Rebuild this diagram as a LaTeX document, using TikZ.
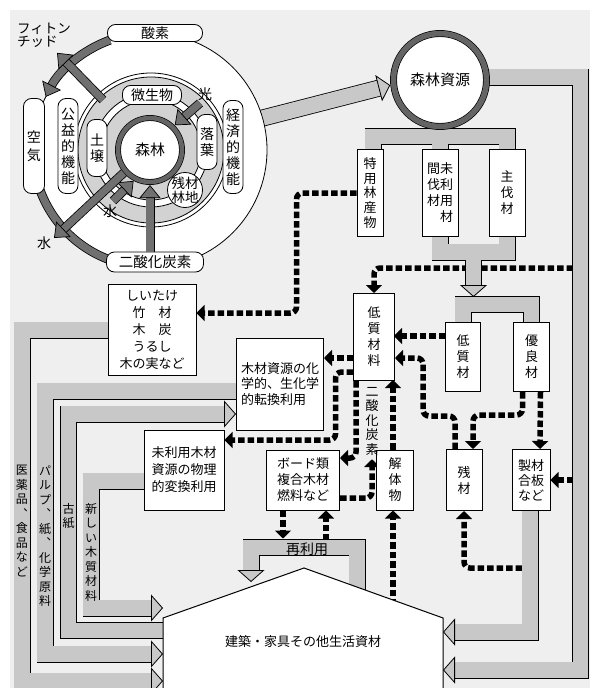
\documentclass[tikz,border=0pt]{standalone}
\usepackage{fontspec}
\setmainfont{Noto Sans CJK JP}
\usepackage{tikz}
\usetikzlibrary{arrows.meta,positioning,calc}
\definecolor{bggray}{RGB}{239,239,239}
\definecolor{bandgray}{RGB}{200,200,200}
\definecolor{diskgray}{RGB}{210,210,210}
\definecolor{arrgray}{RGB}{112,112,112}
\definecolor{ringgray}{RGB}{100,100,100}
\pgfdeclarelayer{bglayer}
\pgfdeclarelayer{dotlayer}
\pgfdeclarelayer{bandlayer}
\pgfsetlayers{bglayer,dotlayer,bandlayer,main}
\tikzset{
  blk/.style={draw, fill=white, line width=1pt, inner sep=0pt, align=center,
              font=\fontsize{13}{16}\selectfont},
  pill/.style={draw, fill=white, line width=0.8pt, rounded corners=8pt, inner sep=0pt,
               align=center, font=\fontsize{14}{16}\selectfont},
  ring/.style={circle, draw, line width=0.7pt, double=ringgray, fill=white, inner sep=0pt},
  dotarr/.style={line width=5.5pt, dash pattern=on 6.5pt off 3pt, rounded corners=6pt,
                 -{Triangle[length=8pt,width=16pt]}},
  bandout/.style={draw=black, line width=17pt},
  bandin/.style={draw=bandgray, line width=15.4pt},
  bandtip/.style={-{Triangle[length=12pt,width=27pt,fill=bandgray,color=black,line width=0.8pt]}},
  darkout/.style={draw=black, line width=9pt},
  darkin/.style={draw=arrgray, line width=7.4pt},
  darktip/.style={-{Triangle[length=13pt,width=21pt,fill=arrgray,color=black,line width=0.7pt]}},
  bandlbl/.style={inner sep=0pt, align=center, font=\fontsize{12}{14.5}\selectfont},
}
\begin{document}
\begin{tikzpicture}[x=1pt, y=-1pt]
  \useasboundingbox (0,0) rectangle (590,688);
  \begin{pgfonlayer}{bglayer}
    \fill[bggray] (10,10) rectangle (590,688);
  \end{pgfonlayer}

  % forest circle
  \coordinate (oc) at (150,150);
  \coordinate (ic) at (151,150);
  \draw[fill=white, line width=0.8pt] (oc) circle[radius=117pt];
  \draw[darkout, shorten >=12pt] (oc) ++(250:117) arc[start angle=110, end angle=153, radius=117pt];
  \draw[darkin, darktip] (oc) ++(250:117) arc[start angle=110, end angle=153, radius=117pt];
  \draw[darkout] (oc) ++(160:117) arc[start angle=200, end angle=250, radius=117pt];
  \draw[darkin] (oc) ++(160:117) arc[start angle=200, end angle=250, radius=117pt];
  \node[pill, minimum width=95pt, minimum height=17pt] (oxygen) at (155,33) {酸素};
  \node[pill, minimum width=21pt, minimum height=95pt, font=\fontsize{14}{18}\selectfont] (air) at (34,146) {空\\気};
  \node[pill, minimum width=97pt, minimum height=20pt, font=\fontsize{14.5}{16}\selectfont] (co2pill) at (155,262) {二酸化炭素};
  \draw[line width=0.8pt] (ic) circle[radius=77pt];
  \draw[fill=diskgray, line width=0.8pt] (ic) circle[radius=73pt];
  \node[pill, minimum width=20pt, minimum height=95pt] (public) at (68,146) {公\\益\\的\\機\\能};
  \node[pill, minimum width=20pt, minimum height=93pt] (econ) at (233,147) {経\\済\\的\\機\\能};
  \draw[fill=white, line width=0.8pt] (ic) circle[radius=57pt];
  \draw[fill=diskgray, line width=0.8pt] (ic) circle[radius=50pt];
  \node[pill, minimum width=59pt, minimum height=19pt] (microbe) at (152,95) {微生物};
  \node[pill, minimum width=20pt, minimum height=57pt] (soil) at (97,148) {土\\壌};
  \node[pill, minimum width=20pt, minimum height=55pt] (litter) at (207,142) {落\\葉};
  \node[circle, draw, fill=white, line width=0.8pt, minimum size=35pt] (slash) at (185,190) {};
  \node[align=center, inner sep=0pt, font=\fontsize{13.5}{14}\selectfont] at (slash) {残材\\林地};
  \node[ring, double distance=4.5pt, outer sep=3pt, minimum size=64pt,
        font=\fontsize{15}{18}\selectfont] (forest) at (150,150) {森林};

  \node[anchor=north west, align=left, inner sep=0pt, font=\fontsize{13.5}{13}\selectfont] (phyton) at (17,23) {フィトン\\チッド};
  \node[inner sep=0pt, font=\fontsize{14}{14}\selectfont] (light) at (205,94) {光};
  \node[inner sep=0pt, font=\fontsize{14}{14}\selectfont] (waterin) at (110,211) {水};
  \node[inner sep=0pt, font=\fontsize{14}{14}\selectfont] (waterout) at (44,243) {水};
  \coordinate (phyS) at (103,100);
  \draw[darkout, shorten >=12pt] (phyS) -- ([xshift=13pt,yshift=-5pt]phyton.south);
  \draw[darkin, darktip] (phyS) -- ([xshift=13pt,yshift=-5pt]phyton.south);
  \draw[darkout, shorten >=12pt] ([xshift=-5pt,yshift=-9pt]light.center) -- (forest.45);
  \draw[darkin, darktip] ([xshift=-5pt,yshift=-9pt]light.center) -- (forest.45);
  \draw[darkout, shorten >=12pt] ([xshift=3pt,yshift=10pt]waterin.center) -- (forest.242);
  \draw[darkin, darktip] ([xshift=3pt,yshift=10pt]waterin.center) -- (forest.242);
  \draw[darkout, shorten >=12pt] (forest.221) -- ([xshift=10pt,yshift=5pt]waterout.center);
  \draw[darkin, darktip] (forest.221) -- ([xshift=10pt,yshift=5pt]waterout.center);
  \draw[darkout, shorten >=12pt] (forest.south |- co2pill.north) -- (forest.south);
  \draw[darkin, darktip] (forest.south |- co2pill.north) -- (forest.south);

  % resources and timber
  \node[ring, double distance=5.5pt, outer sep=3.5pt, minimum size=93pt,
        font=\fontsize{15}{18}\selectfont] (res) at (440,80) {森林資源};
  \node[blk, minimum width=26pt, minimum height=87pt, font=\fontsize{13}{14.6}\selectfont] (special) at (370,193) {特\\用\\林\\産\\物};
  \node[blk, minimum width=36pt, minimum height=87pt] (thinning) at (440,193) {間未\\伐利\\材用\\\hphantom{材}材};
  \node[blk, minimum width=36pt, minimum height=87pt] (mainfell) at (507,193) {主\\伐\\材};
  \node[blk, minimum width=35pt, minimum height=69pt] (lowwood) at (463,357) {低\\質\\材};
  \node[blk, minimum width=36pt, minimum height=69pt, right=32pt of lowwood] (goodwood) {優\\良\\材};
  \node[blk, minimum width=41pt, minimum height=87pt] (lowmat) at (374,337) {低\\質\\材\\料};
  \node[blk, minimum width=36pt, minimum height=61pt] (residue) at (464,480) {残\\材};
  \node[blk, minimum width=38pt, minimum height=61pt, font=\fontsize{13}{15}\selectfont] (lumber) at (531,480) {製材\\合板\\など};
  \node[blk, minimum width=37pt, minimum height=60pt] (demol) at (395,480) {解\\体\\物};
  \node[blk, minimum width=73pt, minimum height=60pt, align=left] (board) at (303,480) {ボード類\\複合木材\\燃料など};
  \node[blk, minimum width=87pt, minimum height=92pt, align=left, font=\fontsize{13}{15.5}\selectfont] (chem) at (280,384) {木材資源の化\\学的、生化学\\的転換利用};
  \node[blk, minimum width=80pt, minimum height=80pt, font=\fontsize{13}{17}\selectfont] (phys) at (184,470) {未利用木材\\資源の物理\\的変換利用};
  \node[blk, minimum width=88pt, minimum height=91pt, font=\fontsize{13}{17}\selectfont] (shiitake) at (152,330) {しいたけ\\竹　材\\木　炭\\うるし\\木の実など};
  \node[inner sep=0pt, align=center, font=\fontsize{13}{14.5}\selectfont] (co2) at (372,421) {二\\酸\\化\\炭\\素};

  % house
  \coordinate (roofL) at (163,618);
  \coordinate (roofT) at (304,568);
  \coordinate (roofR) at (443,618);
  \draw[fill=white, line width=1pt] (roofL) -- (roofT) -- (roofR) -- (443,700) -- (163,700) -- cycle;
  \node[font=\fontsize{13}{16}\selectfont] (house) at (303,642) {建築・家具その他生活資材};
  \node[inner sep=0pt, font=\fontsize{14}{16}\selectfont] (reuse) at (307,549) {再利用};

  \node[bandlbl] (medlbl) at (22,521) {医\\薬\\品\\︑\\食\\品\\な\\ど};
  \node[bandlbl] (pulplbl) at (45,536) {パ\\ル\\プ\\︑\\紙\\︑\\化\\学\\原\\料};
  \node[bandlbl] (paperlbl) at (68.5,516) {古\\紙};
  \node[bandlbl] (newlbl) at (91,552) {新\\し\\い\\木\\質\\材\\料};

  \coordinate (rband) at (573,77);
  \coordinate (sband) at (522,568);
  \coordinate (reuseR) at (357,600);

  \begin{pgfonlayer}{dotlayer}
    \draw[dotarr] (special.west) -- ++(-60,0) |- ([yshift=17pt]shiitake.east);
    \draw[dotarr] (rband |- 0,268) -| (lowmat.north);
    \draw[dotarr] ([yshift=21pt]lowwood.west) -- ++(-51,0);
    \draw[dotarr] ([xshift=-9pt]residue.north) -- ++(0,-33) -- ++(-32,0) |- (lowmat.east |- 0,358);
    \draw[dotarr] ([xshift=-9pt]goodwood.south) -- ++(0,23) -| ([xshift=9pt]residue.north);
    \draw[dotarr] ([xshift=9pt]goodwood.south) -- ([xshift=9pt]lumber.north);
    \draw[dotarr] (rband |- lumber.east) -- (lumber.east);
    \draw[dotarr] (sband) -| (residue.south);
    \draw[dotarr] ([yshift=-21pt]lowmat.west) -- (chem.east |- 0,358);
    \draw[dotarr] ([yshift=-35pt]lowmat.west) -- ++(-17.5,0) |- ([yshift=30pt]phys.east);
    \draw[dotarr] ([xshift=-18pt]lowmat.south) |- ([yshift=22pt]board.east);
    \draw[dotarr] ([yshift=-18pt]board.east) -| ([yshift=-4pt]co2.south);
    \draw[dotarr] ([xshift=-2pt]demol.north) -- ++(0,-69.5);
    \draw[dotarr] ([xshift=-2pt,yshift=-95pt]demol.south) -- ([xshift=-2pt]demol.south);
    \draw[dotarr] ([xshift=-20pt]board.south) -- ++(0,28);
    \draw[dotarr] ([xshift=23pt,yshift=-30pt]board.south) -- ([xshift=23pt]board.south);
  \end{pgfonlayer}

  \begin{pgfonlayer}{bandlayer}
    % outlines first
    \draw[bandout, shorten >=11pt] (255,120) -- (res.186);
    \draw[bandout, shorten >=11pt] ([yshift=3pt]res.center) -- ++(140.5,0) |- (roofR |- 0,670);
    \draw[bandout, shorten >=11pt] ([xshift=-1pt,yshift=10pt]lumber.south) |- (roofR |- 0,632);
    \draw[bandout] ([xshift=3pt]special.north) -- ++(0,-12.5) -| (mainfell.north);
    \draw[bandout] (res.center) -- (thinning.north);
    \draw[bandout] (thinning.south) -- ++(0,15) -| (mainfell.south);
    \draw[bandout, shorten >=11pt] ($(thinning.south)!0.5!(mainfell.south)$) ++(0,15) -- ++(0,45);
    \draw[bandout] (lowwood.north) -- ++(0,-17.5) -| (goodwood.north);
    \draw[bandout, shorten >=11pt] (reuseR) -- ++(0,-52.5) -| ++(-106,34.5);
    \draw[bandout, shorten >=11pt] (shiitake.center) -- ++(-130,0) |- (roofL |- 0,681);
    \draw[bandout, shorten >=11pt] ([yshift=-7pt]chem.center) -- ++(-235,0) |- (roofL |- 0,654);
    \draw[bandout, shorten >=11pt] ([yshift=11.5pt]house.center) -- ++(-234.5,0) -- ++(0,-216.5) -- (chem.west |- 0,414);
    \draw[bandout, shorten >=11pt] ([yshift=-11pt]phys.center) -- ++(-93,0) |- (roofL |- 0,608);
    % then fills
    \draw[bandin, bandtip] (255,120) -- (res.186);
    \draw[bandin, bandtip] ([yshift=3pt]res.center) -- ++(140.5,0) |- (roofR |- 0,670);
    \draw[bandin, bandtip] ([xshift=-1pt,yshift=10pt]lumber.south) |- (roofR |- 0,632);
    \draw[bandin] ([xshift=3pt]special.north) -- ++(0,-12.5) -| (mainfell.north);
    \draw[bandin] (res.center) -- (thinning.north);
    \draw[bandin] (thinning.south) -- ++(0,15) -| (mainfell.south);
    \draw[bandin, bandtip] ($(thinning.south)!0.5!(mainfell.south)$) ++(0,15) -- ++(0,45);
    \draw[bandin] (lowwood.north) -- ++(0,-17.5) -| (goodwood.north);
    \draw[bandin, bandtip] (reuseR) -- ++(0,-52.5) -| ++(-106,34.5);
    \draw[bandin, bandtip] (shiitake.center) -- ++(-130,0) |- (roofL |- 0,681);
    \draw[bandin, bandtip] ([yshift=-7pt]chem.center) -- ++(-235,0) |- (roofL |- 0,654);
    \draw[bandin, bandtip] ([yshift=11.5pt]house.center) -- ++(-234.5,0) -- ++(0,-216.5) -- (chem.west |- 0,414);
    \draw[bandin, bandtip] ([yshift=-11pt]phys.center) -- ++(-93,0) |- (roofL |- 0,608);
  \end{pgfonlayer}
\end{tikzpicture}
\end{document}
